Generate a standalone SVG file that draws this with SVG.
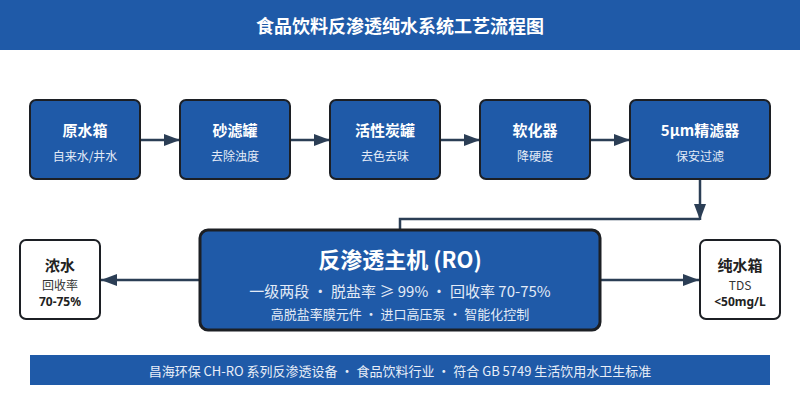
<svg xmlns="http://www.w3.org/2000/svg" width="800" height="400" viewBox="0 0 800 400">
<defs>
<marker id="ah" markerWidth="16" markerHeight="12" refX="16" refY="6" orient="auto" markerUnits="userSpaceOnUse">
<path d="M0,0 L16,6 L0,12 Z" fill="#2b3e55"/>
</marker>
<style>
text{font-family:"Noto Sans CJK SC","Noto Sans",sans-serif;text-anchor:middle;dominant-baseline:central}
.step{fill:#1f5aa8;stroke:#1c1f24;stroke-width:2}
.st{fill:#fff;font-size:15px;font-weight:bold}
.ss{fill:#e3ebf7;font-size:12px}
.out{fill:#fff;stroke:#1c1f24;stroke-width:2}
.ot{fill:#222;font-size:15px;font-weight:bold}
.os{fill:#333;font-size:12px}
.ob{fill:#222;font-size:12px;font-weight:bold;font-family:"Noto Sans",sans-serif}
.con{stroke:#2b3e55;stroke-width:2.5;fill:none}
</style>
</defs>
<rect x="0" y="0" width="800" height="50" fill="#1f5aa8"/>
<text x="400" y="25" fill="#fff" font-size="18" font-weight="bold">食品饮料反渗透纯水系统工艺流程图</text>

<g id="connectors">
<line class="con" x1="141" y1="140" x2="180" y2="140" marker-end="url(#ah)"/>
<line class="con" x1="291" y1="140" x2="330" y2="140" marker-end="url(#ah)"/>
<line class="con" x1="441" y1="140" x2="480" y2="140" marker-end="url(#ah)"/>
<line class="con" x1="591" y1="140" x2="630" y2="140" marker-end="url(#ah)"/>
<line class="con" x1="700" y1="180" x2="700" y2="220" marker-end="url(#ah)"/>
<path class="con" d="M700,219 H400 V230"/>
<line class="con" x1="200" y1="280" x2="101" y2="280" marker-end="url(#ah)"/>
<line class="con" x1="600" y1="280" x2="699" y2="280" marker-end="url(#ah)"/>
</g>

<g id="n1"><rect class="step" x="30" y="100" width="110" height="79" rx="6"/><text class="st" x="85" y="129">原水箱</text><text class="ss" x="85" y="155">自来水/井水</text></g>
<g id="n2"><rect class="step" x="180" y="100" width="110" height="79" rx="6"/><text class="st" x="235" y="129">砂滤罐</text><text class="ss" x="235" y="155">去除浊度</text></g>
<g id="n3"><rect class="step" x="330" y="100" width="110" height="79" rx="6"/><text class="st" x="385" y="129">活性炭罐</text><text class="ss" x="385" y="155">去色去味</text></g>
<g id="n4"><rect class="step" x="480" y="100" width="110" height="79" rx="6"/><text class="st" x="535" y="129">软化器</text><text class="ss" x="535" y="155">降硬度</text></g>
<g id="n5"><rect class="step" x="630" y="100" width="140" height="79" rx="6"/><text class="st" x="700" y="129">5μm精滤器</text><text class="ss" x="700" y="155">保安过滤</text></g>

<g id="ro"><rect x="200" y="230" width="400" height="100" rx="8" fill="#1f5aa8" stroke="#1c1f24" stroke-width="3"/>
<text x="400" y="258" fill="#fff" font-size="22" font-weight="bold">反渗透主机 (RO)</text>
<text x="400" y="290" fill="#e3ebf7" font-size="15">一级两段 · 脱盐率 ≥ 99% · 回收率 70-75%</text>
<text x="400" y="313" fill="#e3ebf7" font-size="13">高脱盐率膜元件 · 进口高压泵 · 智能化控制</text></g>

<g id="conc"><rect class="out" x="20" y="240" width="80" height="79" rx="6"/><text class="ot" x="60" y="264">浓水</text><text class="os" x="60" y="284">回收率</text><text class="ob" x="60" y="301">70-75%</text></g>
<g id="pure"><rect class="out" x="700" y="240" width="80" height="79" rx="6"/><text class="ot" x="740" y="264">纯水箱</text><text class="os" x="740" y="284">TDS</text><text class="ob" x="740" y="301">&lt;50mg/L</text></g>

<rect x="30" y="355" width="740" height="30" fill="#1f5aa8"/>
<text x="400" y="370" fill="#e8eef8" font-size="13">昌海环保 CH-RO 系列反渗透设备 · 食品饮料行业 · 符合 GB 5749 生活饮用水卫生标准</text>
</svg>
